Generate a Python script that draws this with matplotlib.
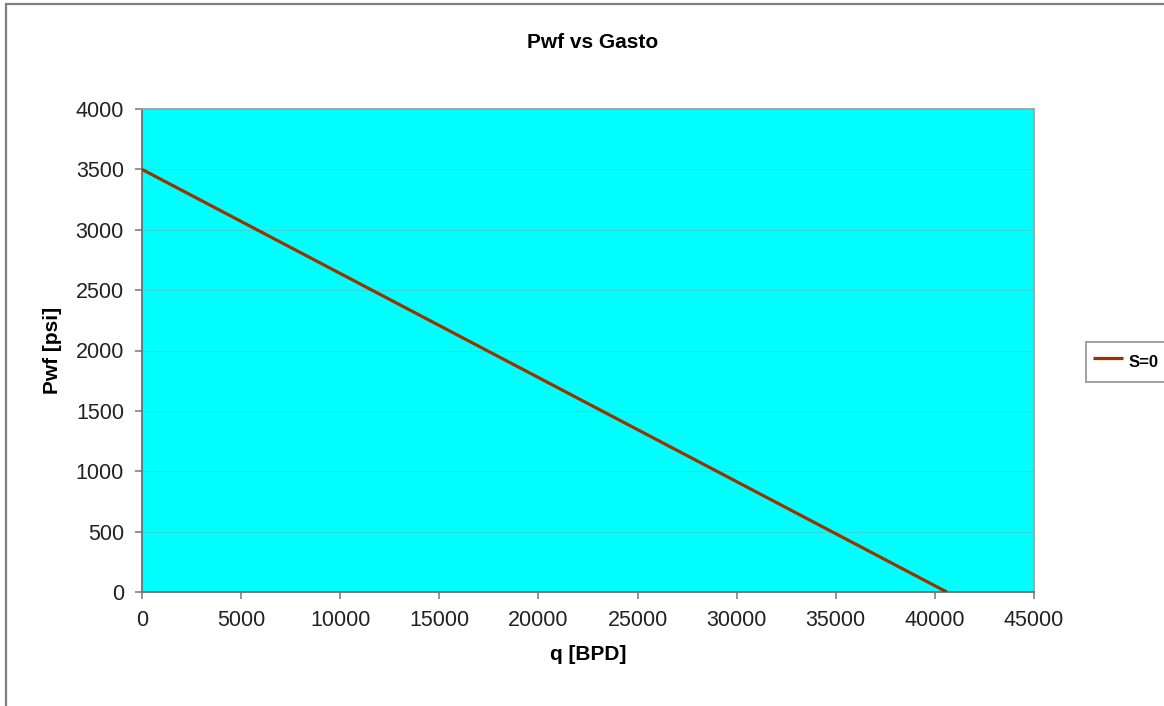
import matplotlib
matplotlib.use("Agg")
import matplotlib.pyplot as plt
from matplotlib.patches import Rectangle

# ==============================
# DATA
# ==============================

q_bpd = [0, 40600]
pwf_psi = [3500, 0]
series_label = "S=0"

x_ticks = [0, 5000, 10000, 15000, 20000, 25000, 30000, 35000, 40000, 45000]
y_ticks = [0, 500, 1000, 1500, 2000, 2500, 3000, 3500, 4000]

plt.rcParams["font.family"] = ["Liberation Sans", "DejaVu Sans"]

W, H = 1164, 706
fig = plt.figure(figsize=(W / 100, H / 100), dpi=100)

# outer chart frame (cut by the right and bottom edges)
fig.patches.append(Rectangle((6 / W, -0.05), 1.2, 1 - 4 / H + 0.05,
                             transform=fig.transFigure, fill=False,
                             edgecolor="#7f7f7f", linewidth=1.6))

ax = fig.add_axes([142 / W, 1 - 592 / H, (1034 - 142) / W, (592 - 109) / H])
ax.set_facecolor("#00ffff")

ax.plot(q_bpd, pwf_psi, color="#993300", linewidth=2.3, label=series_label,
        solid_capstyle="butt", zorder=3)

ax.set_xlim(0, 45000)
ax.set_ylim(0, 4000)
ax.set_xticks(x_ticks)
ax.set_yticks(y_ticks)
ax.tick_params(labelsize=15.5, colors="#808080", labelcolor="#222222",
               length=5, width=1.2, direction="out", pad=8)

ax.yaxis.grid(True, color="#3cd6d6", linewidth=0.8)
ax.set_axisbelow(True)

for side in ["left", "bottom"]:
    ax.spines[side].set_color("#707070")
    ax.spines[side].set_linewidth(1.3)
for side in ["top", "right"]:
    ax.spines[side].set_color("#a0a0a0")
    ax.spines[side].set_linewidth(1.3)

ax.set_xlabel("q [BPD]", fontsize=15, fontweight="bold", labelpad=10)
ax.set_ylabel("Pwf [psi]", fontsize=15, fontweight="bold", labelpad=10)

fig.text(593 / W, 1 - 42 / H, "Pwf vs Gasto", fontsize=15, fontweight="bold",
         ha="center", va="center")

leg = fig.legend(loc="center left", bbox_to_anchor=(1086 / W, 1 - 362 / H),
                 frameon=True, fancybox=False, handlelength=1.8,
                 handleheight=2.0, handletextpad=0.35, borderpad=0.4,
                 borderaxespad=0, prop={"weight": "bold", "size": 12})
leg.get_frame().set_edgecolor("#808080")
leg.get_frame().set_linewidth(1.3)

fig.savefig("out.png", dpi=100)
